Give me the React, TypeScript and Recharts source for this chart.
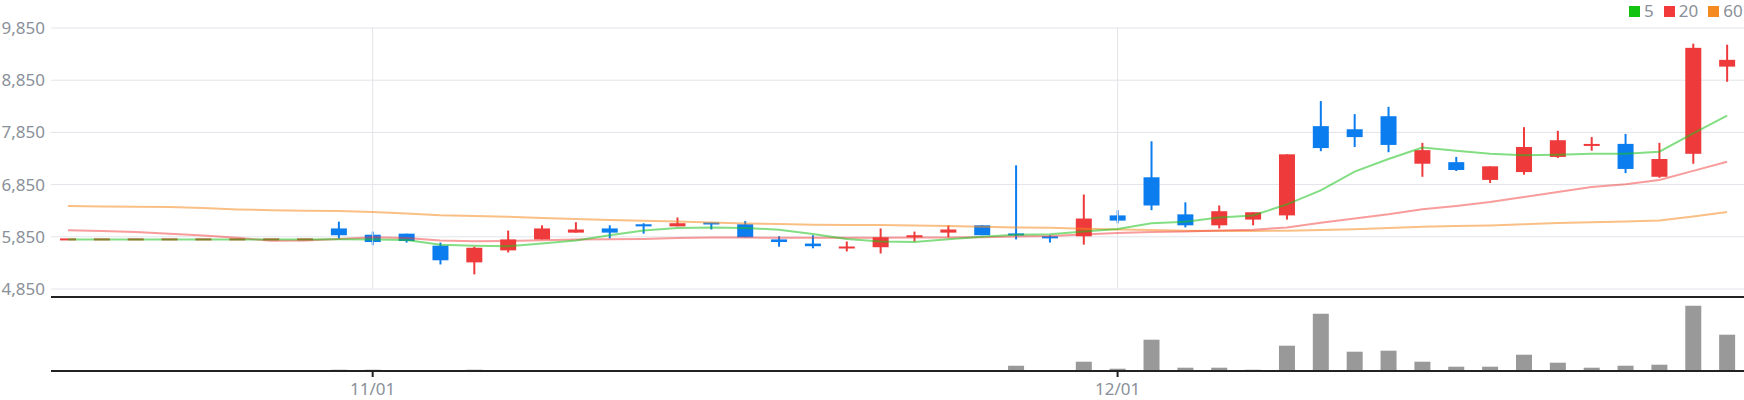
import React from 'react';
import { ComposedChart, Bar, Line, XAxis, YAxis, CartesianGrid, ReferenceLine } from 'recharts';

const dates = [
  '10/19', '10/20', '10/23', '10/24', '10/25', '10/26', '10/27', '10/30', '10/31',
  '11/01', '11/02', '11/03', '11/06', '11/07', '11/08', '11/09', '11/10', '11/13', '11/14', '11/15',
  '11/16', '11/17', '11/20', '11/21', '11/22', '11/23', '11/24', '11/27', '11/28', '11/29', '11/30',
  '12/01', '12/04', '12/05', '12/06', '12/07', '12/08', '12/11', '12/12', '12/13', '12/14', '12/15',
  '12/18', '12/19', '12/20', '12/21', '12/22', '12/26', '12/27', '12/28',
];

const opens = [
  5800, 5800, 5800, 5800, 5800, 5800, 5800, 5800, 6010, 5890,
  5910, 5680, 5360, 5590, 5800, 5930, 6010, 6090, 6050, 6120,
  6090, 5800, 5720, 5630, 5650, 5840, 5930, 6070, 5910, 5860,
  5860, 6260, 6990, 6280, 6070, 6180, 6260, 7970, 7910, 8160,
  7250, 7280, 6940, 7090, 7380, 7600, 7630, 7000, 7440, 9110,
];
const highs = [
  5800, 5800, 5800, 5800, 5800, 5800, 5800, 5800, 6140, 5950,
  5910, 5740, 5660, 5970, 6070, 6130, 6070, 6110, 6220, 6120,
  6150, 5860, 5880, 5760, 6010, 5950, 6070, 6070, 7220, 5880,
  6660, 6360, 7680, 6510, 6450, 6320, 7430, 8450, 8200, 8340,
  7650, 7380, 7200, 7950, 7880, 7760, 7820, 7650, 9550, 9530,
];
const lows = [
  5800, 5800, 5800, 5800, 5800, 5800, 5800, 5800, 5820, 5690,
  5740, 5320, 5130, 5550, 5800, 5930, 5820, 5910, 6050, 5990,
  5840, 5660, 5630, 5570, 5530, 5760, 5840, 5880, 5800, 5740,
  5700, 6110, 6360, 6030, 6010, 6070, 6180, 7490, 7570, 7470,
  7000, 7110, 6880, 7040, 7360, 7500, 7070, 6980, 7250, 8820,
];
const closes = [
  5800, 5800, 5800, 5800, 5800, 5800, 5800, 5800, 5880, 5750,
  5770, 5400, 5640, 5800, 6010, 5990, 5930, 6050, 6110, 6090,
  5840, 5750, 5670, 5660, 5840, 5880, 5990, 5880, 5880, 5820,
  6200, 6160, 6450, 6070, 6340, 6320, 7430, 7550, 7760, 7610,
  7510, 7130, 7200, 7570, 7700, 7620, 7150, 7340, 9470, 9240,
];

const ma5 = [
  5800, 5800, 5800, 5800, 5800, 5800, 5800, 5800, 5805, 5800,
  5790, 5700, 5680, 5670, 5720, 5780, 5880, 5970, 6020, 6030,
  6020, 5985, 5905, 5810, 5760, 5750, 5805, 5850, 5890, 5900,
  5950, 6000, 6110, 6140, 6220, 6260, 6470, 6740, 7100, 7340,
  7560, 7500, 7440, 7410, 7420, 7440, 7440, 7480, 7830, 8170,
];
const ma20 = [
  5977, 5960, 5940, 5910, 5875, 5830, 5775, 5780, 5810, 5840,
  5825, 5780, 5765, 5770, 5785, 5800, 5805, 5810, 5825, 5835,
  5835, 5830, 5830, 5830, 5830, 5835, 5838, 5843, 5855, 5865,
  5895, 5925, 5940, 5953, 5970, 5985, 6030, 6120, 6200, 6280,
  6376, 6440, 6517, 6613, 6709, 6805, 6856, 6940, 7113, 7286,
];
const ma60 = [
  6438, 6430, 6425, 6420, 6400, 6375, 6360, 6350, 6342, 6323,
  6295, 6265, 6250, 6234, 6208, 6190, 6170, 6158, 6145, 6125,
  6106, 6095, 6081, 6078, 6074, 6065, 6055, 6042, 6029, 6023,
  6005, 5991, 5978, 5965, 5962, 5959, 5968, 5978, 5995, 6020,
  6042, 6055, 6068, 6090, 6113, 6130, 6145, 6164, 6241, 6324,
];

const volumes = [
  0, 0, 0, 0, 0, 0, 0, 0, 26000, 26000,
  0, 0, 26000, 0, 0, 0, 0, 0, 0, 0,
  0, 0, 0, 0, 0, 0, 0, 0, 106000, 0,
  186000, 46000, 626000, 66000, 66000, 26000, 506000, 1146000, 386000, 406000,
  186000, 86000, 86000, 326000, 166000, 66000, 106000, 126000, 1306000, 726000,
];

const priceTicks = [4850, 5850, 6850, 7850, 8850, 9850];
const dateTicks = ['11/01', '12/01'];
const VOL_MAX = 1480000;

const UP = '#ee3a3a';
const DOWN = '#0b7def';
const TEXT = '#8a9099';
const GRID = '#e2e4e9';
const FONT = '"Noto Sans", Roboto, sans-serif';

const data = dates.map((d, i) => ({
  date: d,
  open: opens[i],
  high: highs[i],
  low: lows[i],
  close: closes[i],
  range: [lows[i], highs[i]],
  ma5: ma5[i],
  ma20: ma20[i],
  ma60: ma60[i],
  volume: volumes[i],
}));

const Candle = (props: any) => {
  const { x, y, width, height, payload } = props;
  if (x == null || y == null || !payload) return null;
  const { open, close, high, low } = payload;
  const color = close >= open ? UP : DOWN;
  const cx = x + width / 2;
  const span = high - low;
  const h = Math.abs(height || 0);
  const ppu = span > 0 ? h / span : 0;
  const yOf = (v: number) => y + (high - v) * ppu;
  const top = yOf(Math.max(open, close));
  const bot = yOf(Math.min(open, close));
  let by = top;
  let bh = bot - top;
  if (bh < 2) {
    by = (top + bot) / 2 - 1;
    bh = 2;
  }
  return (
    <g>
      {h > 0 && <rect x={cx - 1} y={y} width={2} height={h} fill={color} />}
      <rect x={x} y={by} width={width} height={bh} fill={color} />
    </g>
  );
};

const legendItems = [
  { label: '5', color: '#12c312' },
  { label: '20', color: '#f23a3a' },
  { label: '60', color: '#f58a1f' },
];

export default function App() {
  return (
    <div style={{ position: 'absolute', left: 0, top: 0, width: 1744, height: 400, background: '#fff', fontFamily: FONT }}>
      <div style={{ position: 'absolute', left: 0, top: 0 }}>
        <ComposedChart width={1744} height={310} data={data} margin={{ top: 28, right: 0, bottom: 21, left: 0 }}>
          <CartesianGrid vertical={false} stroke={GRID} strokeWidth={1} />
          <ReferenceLine x="11/01" stroke={GRID} strokeWidth={1} />
          <ReferenceLine x="12/01" stroke={GRID} strokeWidth={1} />
          <XAxis dataKey="date" hide />
          <YAxis
            width={51}
            domain={[4850, 9850]}
            ticks={priceTicks}
            interval={0}
            allowDataOverflow
            axisLine={false}
            tickLine={false}
            tickMargin={0}
            tick={{ fill: TEXT, fontSize: 17, fontFamily: FONT }}
            tickFormatter={(v: number) => v.toLocaleString('en-US')}
          />
          <Line dataKey="ma60" type="linear" stroke="#f58a1f" strokeOpacity={0.55} strokeWidth={2} dot={false} activeDot={false} isAnimationActive={false} />
          <Line dataKey="ma20" type="linear" stroke="#f23a3a" strokeOpacity={0.5} strokeWidth={2} dot={false} activeDot={false} isAnimationActive={false} />
          <Line dataKey="ma5" type="linear" stroke="#1ec21e" strokeOpacity={0.55} strokeWidth={2} dot={false} activeDot={false} isAnimationActive={false} />
          <Bar dataKey="range" barSize={16} shape={<Candle />} isAnimationActive={false} />
        </ComposedChart>
      </div>
      <div style={{ position: 'absolute', left: 0, top: 296 }}>
        <ComposedChart width={1744} height={104} data={data} margin={{ top: 1, right: 0, bottom: 0, left: 51 }}>
          <XAxis
            dataKey="date"
            ticks={dateTicks}
            interval={0}
            height={29}
            axisLine={{ stroke: '#222', strokeWidth: 2 }}
            tickLine={{ stroke: '#222', strokeWidth: 2 }}
            tickSize={6}
            tickMargin={6}
            tick={{ fill: TEXT, fontSize: 17, fontFamily: FONT }}
          />
          <YAxis hide domain={[0, VOL_MAX]} allowDataOverflow />
          <Bar dataKey="volume" barSize={16} fill="#999999" isAnimationActive={false} />
          <ReferenceLine y={VOL_MAX} stroke="#222" strokeWidth={2} />
        </ComposedChart>
      </div>
      <div style={{ position: 'absolute', left: 1629, top: 0, height: 22, display: 'flex', alignItems: 'center', fontSize: 17, color: TEXT, lineHeight: '22px' }}>
        {legendItems.map((it) => (
          <div key={it.label} style={{ display: 'flex', alignItems: 'center', marginRight: 10 }}>
            <span style={{ display: 'inline-block', width: 11, height: 11, background: it.color, marginRight: 4 }} />
            <span>{it.label}</span>
          </div>
        ))}
      </div>
    </div>
  );
}
